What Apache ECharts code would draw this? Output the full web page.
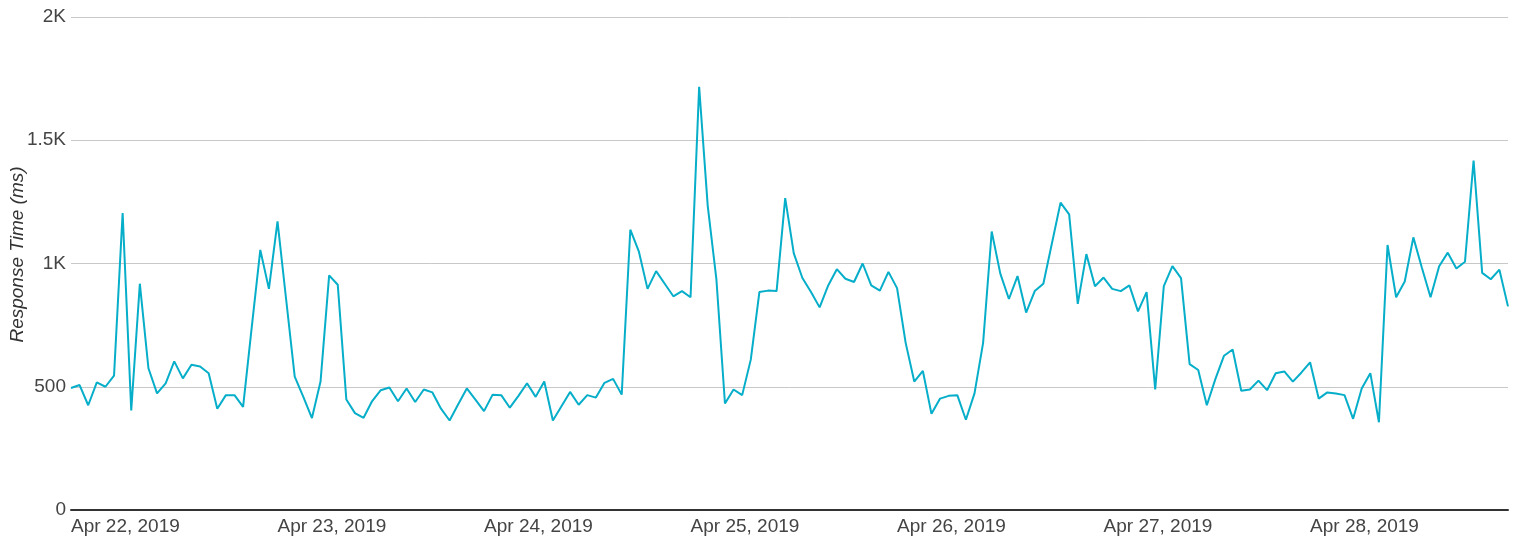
<!DOCTYPE html>
<html>
<head>
<meta charset="utf-8">
<title>Response Time</title>
<script src="https://cdn.jsdelivr.net/npm/echarts@6/dist/echarts.min.js"></script>
<style>
  html, body { margin: 0; padding: 0; background: #fff; }
  #chart { width: 1528px; height: 542px; }
</style>
</head>
<body>
<div id="chart"></div>
<script>
// hourly response times (ms), one array per day
const days = ['Apr 22, 2019', 'Apr 23, 2019', 'Apr 24, 2019', 'Apr 25, 2019', 'Apr 26, 2019', 'Apr 27, 2019', 'Apr 28, 2019']
const apr22 = [495, 507, 425, 518, 500, 545, 1205, 404, 918, 575, 473, 514, 603, 534, 589, 582, 555, 411, 466, 466, 418, 740, 1055, 897]
const apr23 = [1171, 855, 541, 459, 373, 521, 952, 914, 448, 393, 374, 442, 486, 497, 441, 493, 438, 489, 477, 411, 363, 429, 493, 448]
const apr24 = [401, 468, 466, 415, 463, 514, 459, 521, 363, 421, 479, 427, 466, 456, 516, 532, 468, 1137, 1048, 897, 969, 918, 867, 888]
const apr25 = [863, 1717, 1233, 938, 432, 489, 466, 610, 884, 890, 888, 1265, 1041, 941, 884, 822, 911, 977, 938, 925, 1000, 911, 890, 966]
const apr26 = [900, 678, 521, 564, 390, 452, 463, 466, 366, 473, 678, 1130, 959, 856, 949, 801, 888, 918, 1082, 1247, 1199, 836, 1038, 908]
const apr27 = [943, 897, 888, 911, 806, 884, 489, 908, 989, 941, 592, 568, 425, 532, 626, 651, 484, 489, 525, 486, 555, 562, 521, 558]
const apr28 = [599, 452, 477, 473, 466, 370, 493, 555, 356, 1075, 863, 927, 1106, 982, 863, 989, 1044, 980, 1007, 1418, 962, 936, 975, 826]
const yTicks = [0, 500, 1000, 1500, 2000]

const values = [].concat(apr22, apr23, apr24, apr25, apr26, apr27, apr28)
const categories = []
days.forEach((d) => {
  for (let h = 0; h < 24; h++) categories.push(d + ' ' + h + ':00')
})

const chart = echarts.init(document.getElementById('chart'))
chart.setOption({
  animation: false,
  textStyle: { fontFamily: '"Liberation Sans", Arial, sans-serif' },
  grid: { left: 71, right: 20, top: 17, bottom: 32, containLabel: false, outerBoundsMode: 'none' },
  xAxis: {
    type: 'category',
    data: categories,
    boundaryGap: false,
    axisLine: { lineStyle: { color: '#333', width: 2 } },
    axisTick: { show: false },
    axisLabel: {
      interval: 23,
      align: 'left',
      margin: 7,
      color: '#444',
      fontSize: 19,
      formatter: (v) => v.split(' ').slice(0, 3).join(' '),
    },
    splitLine: { show: false },
  },
  yAxis: {
    type: 'value',
    min: yTicks[0],
    max: yTicks[yTicks.length - 1],
    interval: 500,
    name: 'Response Time (ms)',
    nameLocation: 'middle',
    nameGap: 44,
    nameMoveOverlap: false,
    nameTextStyle: { fontStyle: 'italic', fontSize: 19, color: '#333', padding: [0, 0, 0, 18] },
    axisLine: { show: false },
    axisTick: { show: false },
    axisLabel: {
      margin: 5,
      color: '#444',
      fontSize: 19,
      formatter: (v) => (v >= 1000 ? v / 1000 + 'K' : String(v)),
    },
    splitLine: { lineStyle: { color: '#c8c8c8', width: 1 } },
  },
  series: [{
    type: 'line',
    data: values,
    showSymbol: false,
    lineStyle: { color: '#06aec9', width: 2 },
    itemStyle: { color: '#06aec9' },
  }],
})
</script>
</body>
</html>
